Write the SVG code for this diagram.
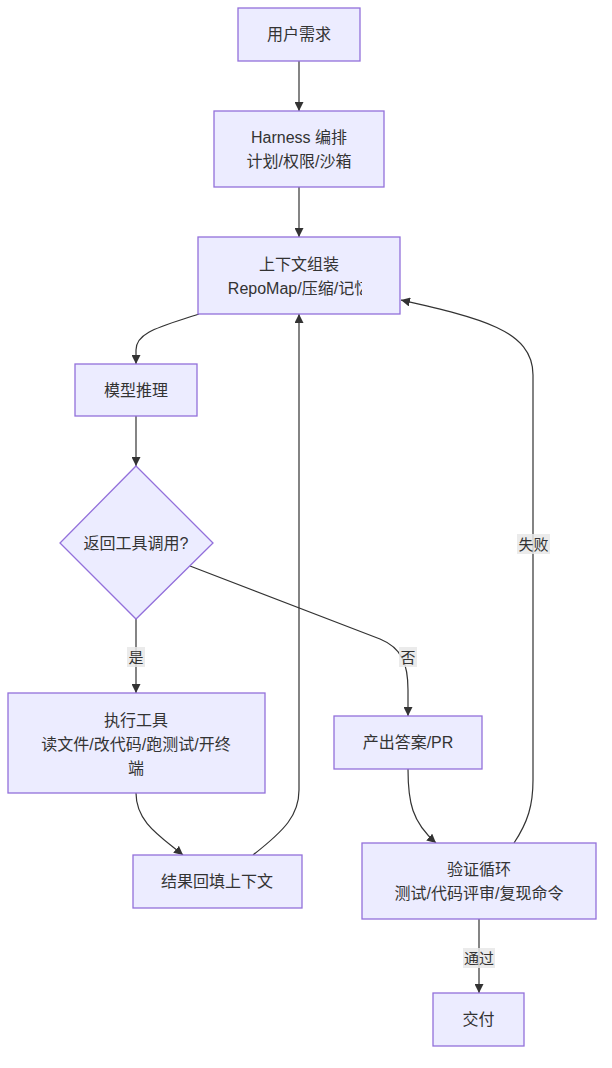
<svg xmlns="http://www.w3.org/2000/svg" width="612" height="1068" viewBox="0 0 612 1068">
<style>
.node rect, .node polygon { fill: #ECECFF; stroke: #9370DB; stroke-width: 1.3; }
.lbl { font-family: "Liberation Sans", "Noto Sans CJK SC", sans-serif; font-size: 16px; fill: #333333; text-anchor: middle; dominant-baseline: central; }
.edge { fill: none; stroke: #333333; stroke-width: 1.2; }
.elbg { fill: #E8E8E8; fill-opacity: 0.85; }
.elt { font-family: "Liberation Sans", "Noto Sans CJK SC", sans-serif; font-size: 15px; fill: #333333; text-anchor: middle; dominant-baseline: central; }
</style>
<defs>
<marker id="arr" viewBox="0 0 10 10" refX="10" refY="5" markerWidth="9" markerHeight="9" markerUnits="userSpaceOnUse" orient="auto">
<path d="M0,0 L10,5 L0,10 z" fill="#333333"/>
</marker>
<clipPath id="ctxclip"><rect x="198" y="237" width="164" height="77"/></clipPath>
</defs>
<rect width="612" height="1068" fill="#FFFFFF"/>
<g id="connectors">
<path class="edge" d="M299,61 L299,111" marker-end="url(#arr)"/>
<path class="edge" d="M299,187 L299,237" marker-end="url(#arr)"/>
<path class="edge" d="M199,314 C160,327 136,332 136,350 L136,364" marker-end="url(#arr)"/>
<path class="edge" d="M136,416 L136,466" marker-end="url(#arr)"/>
<path class="edge" d="M136,619 L136,693" marker-end="url(#arr)"/>
<path class="edge" d="M190,566 L380,639 C402,648 408,664 408,690 L408,716" marker-end="url(#arr)"/>
<path class="edge" d="M136,793 C136,822 160,836 183,855" marker-end="url(#arr)"/>
<path class="edge" d="M253,855 C285,830 299,815 299,790 L299,314" marker-end="url(#arr)"/>
<path class="edge" d="M408,769 C408,802 412,822 436,843" marker-end="url(#arr)"/>
<path class="edge" d="M514,843 C528,822 533,805 533,780 L533,375 C533,330 480,318 401,300" marker-end="url(#arr)"/>
<path class="edge" d="M479,919 L479,993" marker-end="url(#arr)"/>
<rect class="elbg" x="127" y="647" width="18" height="20"/>
<text class="elt" x="136" y="657">是</text>
<rect class="elbg" x="399" y="647" width="18" height="20"/>
<text class="elt" x="408" y="657">否</text>
<rect class="elbg" x="517" y="534" width="33" height="20"/>
<text class="elt" x="533.5" y="544">失败</text>
<rect class="elbg" x="463" y="948" width="32" height="20"/>
<text class="elt" x="479" y="958">通过</text>
</g>
<g id="n_user" class="node">
<rect x="238" y="8" width="122" height="53"/>
<text class="lbl" x="299" y="34.5">用户需求</text>
</g>
<g id="n_harness" class="node">
<rect x="214" y="111" width="170" height="76"/>
<text class="lbl" x="299" y="137">Harness 编排</text>
<text class="lbl" x="299" y="161">计划/权限/沙箱</text>
</g>
<g id="n_context" class="node">
<rect x="198" y="237" width="202" height="77"/>
<g clip-path="url(#ctxclip)">
<text class="lbl" x="299" y="264">上下文组装</text>
<text class="lbl" x="299" y="288">RepoMap/压缩/记忆</text>
</g>
</g>
<g id="n_model" class="node">
<rect x="75" y="364" width="122" height="52"/>
<text class="lbl" x="136" y="390">模型推理</text>
</g>
<g id="n_decide" class="node">
<polygon points="136,466 213,543 136,619 60,543"/>
<text class="lbl" x="136" y="543">返回工具调用?</text>
</g>
<g id="n_exec" class="node">
<rect x="8" y="693" width="257" height="100"/>
<text class="lbl" x="136" y="720">执行工具</text>
<text class="lbl" x="136" y="744">读文件/改代码/跑测试/开终</text>
<text class="lbl" x="136" y="768">端</text>
</g>
<g id="n_fill" class="node">
<rect x="133" y="855" width="169" height="53"/>
<text class="lbl" x="217" y="881.5">结果回填上下文</text>
</g>
<g id="n_answer" class="node">
<rect x="334" y="716" width="148" height="53"/>
<text class="lbl" x="408" y="742.5">产出答案/PR</text>
</g>
<g id="n_verify" class="node">
<rect x="362" y="843" width="234" height="76"/>
<text class="lbl" x="479" y="869">验证循环</text>
<text class="lbl" x="479" y="893">测试/代码评审/复现命令</text>
</g>
<g id="n_deliver" class="node">
<rect x="433" y="993" width="91" height="53"/>
<text class="lbl" x="478.5" y="1019.5">交付</text>
</g>
</svg>
